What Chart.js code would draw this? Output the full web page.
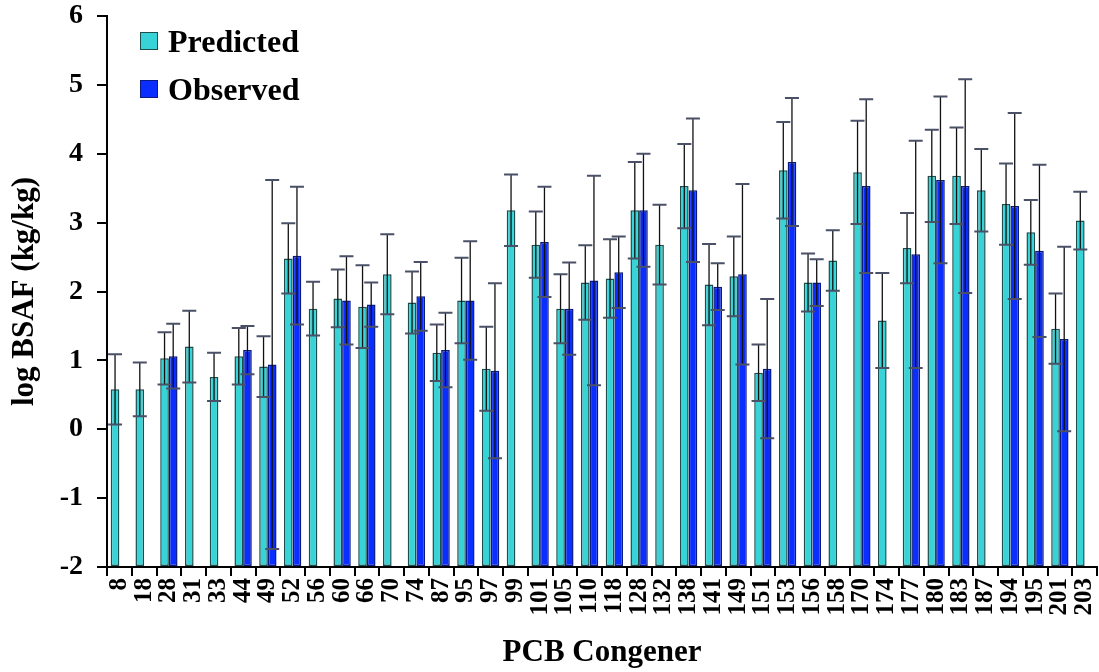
<!DOCTYPE html>
<html>
<head>
<meta charset="utf-8">
<script src="https://cdn.jsdelivr.net/npm/chart.js@4/dist/chart.umd.min.js"></script>
<style>
  html, body { margin: 0; padding: 0; background: #fff; }
  #wrap { position: relative; width: 1099px; height: 672px; }
  #legend { position: absolute; left: 140px; top: 17px; font-family: "Liberation Serif", "Times New Roman", serif; font-weight: bold; font-size: 32px; color: #000; }
  #legend div { display: flex; align-items: center; height: 48px; }
  #legend span.box { display: inline-block; width: 16px; height: 16px; margin-right: 10px; border: 1.5px solid #1e4d4d; }
</style>
</head>
<body>
<div id="wrap">
  <canvas id="chart" width="1099" height="672"></canvas>
  <div id="legend">
    <div><span class="box" style="background:#37d3d6"></span>Predicted</div>
    <div><span class="box" style="background:#0a2eff;border-color:#0a1a80"></span>Observed</div>
  </div>
</div>
<script>
// log BSAF par congénère PCB
const congeners = ['8', '18', '28', '31', '33', '44', '49', '52', '56', '60', '66', '70', '74', '87', '95', '97', '99', '101', '105', '110',
  '118', '128', '132', '138', '141', '149', '151', '153', '156', '158', '170', '174', '177', '180', '183', '187', '194', '195', '201', '203'];

const predicted = [0.58, 0.58, 1.03, 1.20, 0.76, 1.06, 0.91, 2.48, 1.75, 1.90, 1.78, 2.25, 1.84, 1.11, 1.87, 0.88, 3.18, 2.68, 1.75, 2.13,
  2.19, 3.18, 2.68, 3.53, 2.10, 2.22, 0.82, 3.76, 2.13, 2.45, 3.73, 1.58, 2.63, 3.68, 3.68, 3.47, 3.27, 2.86, 1.46, 3.03];
const predictedErr = [0.51, 0.39, 0.38, 0.52, 0.35, 0.41, 0.44, 0.51, 0.39, 0.42, 0.60, 0.58, 0.45, 0.41, 0.62, 0.61, 0.52, 0.48, 0.50, 0.54,
  0.57, 0.70, 0.58, 0.61, 0.59, 0.58, 0.41, 0.70, 0.42, 0.44, 0.75, 0.69, 0.51, 0.67, 0.70, 0.60, 0.59, 0.47, 0.51, 0.42];

const observed = [null, null, 1.06, null, null, 1.15, 0.94, 2.52, null, 1.87, 1.81, null, 1.93, 1.15, 1.87, 0.85, null, 2.72, 1.75, 2.16,
  2.28, 3.18, null, 3.47, 2.07, 2.25, 0.88, 3.88, 2.13, null, 3.53, null, 2.54, 3.62, 3.53, null, 3.24, 2.59, 1.31, null];
const observedErr = [null, null, 0.47, null, null, 0.35, 2.68, 1.00, null, 0.64, 0.32, null, 0.50, 0.54, 0.86, 1.27, null, 0.80, 0.67, 1.52,
  0.52, 0.82, null, 1.04, 0.34, 1.31, 1.01, 0.93, 0.34, null, 1.26, null, 1.65, 1.21, 1.55, null, 1.35, 1.25, 1.34, null];

const serif = '"Liberation Serif", "Times New Roman", serif';

// barres d'erreur dessinées par-dessus les barres
const errorBarPlugin = {
  id: 'errorBars',
  afterDatasetsDraw(chart) {
    const ctx = chart.ctx;
    const yScale = chart.scales.y;
    chart.data.datasets.forEach((ds, i) => {
      const meta = chart.getDatasetMeta(i);
      meta.data.forEach((bar, j) => {
        const v = ds.data[j];
        const e = ds.errors[j];
        if (v == null || e == null) return;
        const yTop = yScale.getPixelForValue(v + e);
        const yBot = yScale.getPixelForValue(v - e);
        const x = bar.x;
        ctx.save();
        ctx.strokeStyle = '#111';
        ctx.lineWidth = 1.3;
        ctx.beginPath();
        ctx.moveTo(x, yTop);
        ctx.lineTo(x, yBot);
        ctx.stroke();
        ctx.strokeStyle = '#4a5066';
        ctx.lineWidth = 2;
        ctx.beginPath();
        ctx.moveTo(x - 7, yTop);
        ctx.lineTo(x + 7, yTop);
        ctx.moveTo(x - 7, yBot);
        ctx.lineTo(x + 7, yBot);
        ctx.stroke();
        ctx.restore();
      });
    });
  }
};

new Chart(document.getElementById('chart'), {
  type: 'bar',
  data: {
    labels: congeners,
    datasets: [
      {
        label: 'Predicted',
        data: predicted,
        errors: predictedErr,
        base: -2,
        backgroundColor: '#37d3d6',
        borderColor: '#1e4d4d',
        borderWidth: 1.5,
        borderSkipped: false
      },
      {
        label: 'Observed',
        data: observed,
        errors: observedErr,
        base: -2,
        backgroundColor: '#0a2eff',
        borderColor: '#0a1a80',
        borderWidth: 1.5,
        borderSkipped: false
      }
    ]
  },
  options: {
    responsive: false,
    animation: false,
    layout: { padding: { top: 16, right: 2, left: 0, bottom: 0 } },
    datasets: { bar: { categoryPercentage: 0.7, barPercentage: 1.0 } },
    plugins: {
      legend: { display: false },
      tooltip: { enabled: false }
    },
    scales: {
      x: {
        afterFit: s => { s.paddingLeft = 0; s.paddingRight = 0; s.height = 105; },
        grid: { display: true, drawOnChartArea: false, drawTicks: true, tickLength: 9, color: '#000', lineWidth: 2 },
        border: { display: true, color: '#000', width: 2 },
        ticks: { color: '#000', minRotation: 90, maxRotation: 90, autoSkip: false, padding: 2, font: { family: serif, weight: 'bold', size: 25 } },
        title: { display: true, text: 'PCB Congener', color: '#000', padding: { top: 0, bottom: 0 }, font: { family: serif, weight: 'bold', size: 31 } }
      },
      y: {
        min: -2,
        max: 6,
        afterFit: s => { s.paddingTop = 0; s.paddingBottom = 0; s.width = 107; },
        grid: { display: true, drawOnChartArea: false, drawTicks: true, tickLength: 10, color: '#000', lineWidth: 2 },
        border: { display: true, color: '#000', width: 2 },
        ticks: { stepSize: 1, color: '#000', padding: 14, font: { family: serif, weight: 'bold', size: 28 } },
        title: { display: true, text: 'log BSAF (kg/kg)', color: '#000', padding: { top: 6, bottom: 0 }, font: { family: serif, weight: 'bold', size: 31 } }
      }
    }
  },
  plugins: [errorBarPlugin]
});
</script>
</body>
</html>
